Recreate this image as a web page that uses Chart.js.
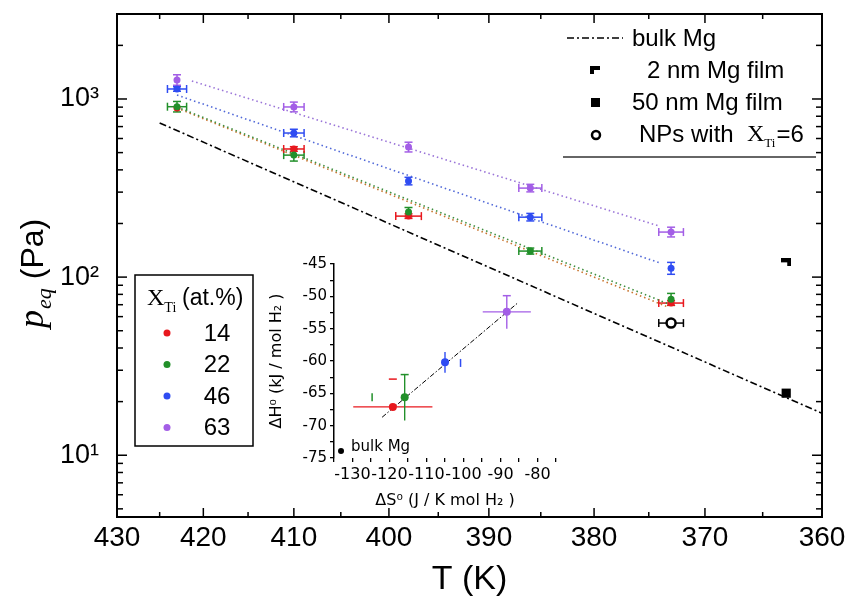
<!DOCTYPE html>
<html>
<head>
<meta charset="utf-8">
<title>Equilibrium pressure of Mg-Ti nanoparticles</title>
<script src="https://cdn.jsdelivr.net/npm/chart.js@4.4.1/dist/chart.umd.min.js"></script>
<style>
  html, body { margin: 0; padding: 0; background: #fff; }
  #wrap { position: relative; width: 849px; height: 603px; }
  #main { position: absolute; left: 0; top: 0; }
  #inset { position: absolute; left: 255px; top: 250px; }
</style>
</head>
<body>
<div id="wrap">
  <canvas id="main" width="849" height="603"></canvas>
  <canvas id="inset" width="310" height="265"></canvas>
</div>
<script>
// equilibrium pressure (Pa) at each temperature (K), one list per Ti content
const temps = [423, 410, 398, 386, 373];
const pTi14 = [890, 524, 220, null, 71.5];
const pTi22 = [905, 484, 232, 140, 75];
const pTi46 = [1138, 644, 346, 217, 112];
const pTi63 = [1278, 902, 537, 316, 179];

// error bars: temperature (K) and relative pressure
const dT14 = [0, 1.1, 1.3, 0, 1.1];
const dP14 = [0, 0.03, 0.03, 0, 0.03];
const dT22 = [1.1, 1.1, 0, 1.1, 0];
const dP22 = [0.07, 0.08, 0.06, 0.04, 0.08];
const dT46 = [1.1, 1.1, 0, 1.1, 0];
const dP46 = [0.03, 0.05, 0.05, 0.05, 0.08];
const dT63 = [0, 1.1, 0, 1.1, 1.1];
const dP63 = [0.07, 0.065, 0.065, 0.05, 0.065];

// van 't Hoff fits (end points)
const fitT14 = [423, 373.3], fitP14 = [890, 68];
const fitT22 = [423, 373.3], fitP22 = [902, 71];
const fitT46 = [423, 374], fitP46 = [1053, 120];
const fitT63 = [421.3, 374], fitP63 = [1262, 193];

// reference samples
const bulkT = [425, 360], bulkP = [733, 17.2];
const filmT = [363], film2nm = [121], film50nm = [22.3];
const npT = [373], npP = [55.2], npErrT = [1.1];

const tiLabels = ['14', '22', '46', '63'];
const tiColors = ['#e8181e', '#22902a', '#2f4cf2', '#a35ee6'];
const fitColors = ['#c8742e', '#3f8f3f', '#5068d8', '#9a74d8'];
const tickTemps = [430, 425, 420, 415, 410, 405, 400, 395, 390, 385, 380, 375, 370, 365, 360];
const decadeLabels = { 10: '10\u00b9', 100: '10\u00b2', 1000: '10\u00b3' };

// inset: formation enthalpy vs entropy
const dS = [-119.1, -115.9, -105.0, -88.3];
const dH = [-67.1, -65.6, -60.2, -52.4];
const dSerr = [10.7, 0, 0, 6.5];
const dHerr = [0, 3.6, 1.6, 2.6];
const capS = [-119.1, -124.7, -100.8, -115.9, -88.3];
const capH = [-62.8, -65.6, -60.3, -62.1, -49.9];
const capRot = [0, 90, 90, 0, 0];
const capColors = [tiColors[0], tiColors[1], tiColors[2], tiColors[1], tiColors[3]];
const bulkS = [-133.1], bulkH = [-73.9];
const lineS = [-122, -85.3], lineH = [-68.7, -51.0];

Chart.defaults.font.family = '"Liberation Sans", Arial, sans-serif';
Chart.defaults.color = '#000';

const SANS = '"Liberation Sans", Arial, sans-serif';
const SERIF = '"Liberation Serif", "Times New Roman", serif';

// "2 nm film" marker: half-filled square
function halfSquare(flip) {
  const c = document.createElement('canvas');
  c.width = 10; c.height = 8;
  const g = c.getContext('2d');
  g.fillStyle = '#000';
  g.fillRect(0, 0, 10, 4);
  g.fillRect(flip ? 0 : 6, 4, 4, 4);
  return c;
}
const film2Marker = halfSquare(false);
const film2Legend = halfSquare(true);

const toXY = (ts, ps) => ts.map((T, i) => ({ x: 1000 / T, y: ps[i] }));

function series(ps, dT, dP, i, order) {
  return {
    data: toXY(temps, ps),
    errT: dT, errP: dP, errColor: tiColors[i],
    backgroundColor: tiColors[i], borderColor: tiColors[i],
    pointRadius: 3.5, borderWidth: 0, order: order
  };
}

function fit(ts, ps, i) {
  return {
    data: toXY(ts, ps), showLine: true,
    borderColor: fitColors[i], borderWidth: 1.6, borderDash: [1.5, 3],
    pointRadius: 0, order: 10
  };
}

function strokeLine(ctx, x1, y1, x2, y2) {
  ctx.beginPath();
  ctx.moveTo(x1, y1);
  ctx.lineTo(x2, y2);
  ctx.stroke();
}

// fixed axis boxes so the plot area lands where we want it
function fixBox(size) {
  return s => {
    if (s.isHorizontal()) s.height = size; else s.width = size;
    s.paddingTop = 0; s.paddingBottom = 0;
    s.paddingLeft = 0; s.paddingRight = 0;
  };
}

const mainDecor = {
  id: 'mainDecor',
  beforeDatasetsDraw(chart) {
    // error bars sit under the markers
    const ctx = chart.ctx, xs = chart.scales.x, ys = chart.scales.y;
    chart.data.datasets.forEach(ds => {
      if (!ds.errT) return;
      ctx.save();
      ctx.strokeStyle = ds.errColor;
      ctx.lineWidth = 1.5;
      ds.data.forEach((pt, i) => {
        if (pt.y == null) return;
        const px = xs.getPixelForValue(pt.x), py = ys.getPixelForValue(pt.y);
        const et = ds.errT[i], ep = ds.errP ? ds.errP[i] : 0;
        if (et) {
          const T = 1000 / pt.x;
          const x1 = xs.getPixelForValue(1000 / (T + et));
          const x2 = xs.getPixelForValue(1000 / (T - et));
          strokeLine(ctx, x1, py, x2, py);
          strokeLine(ctx, x1, py - 4, x1, py + 4);
          strokeLine(ctx, x2, py - 4, x2, py + 4);
        }
        if (ep) {
          const y1 = ys.getPixelForValue(pt.y * (1 + ep));
          const y2 = ys.getPixelForValue(pt.y / (1 + ep));
          strokeLine(ctx, px, y1, px, y2);
          strokeLine(ctx, px - 4, y1, px + 4, y1);
          strokeLine(ctx, px - 4, y2, px + 4, y2);
        }
      });
      ctx.restore();
    });
  },
  afterDraw(chart) {
    const ctx = chart.ctx, xs = chart.scales.x, ys = chart.scales.y;
    const { left, right, top, bottom } = chart.chartArea;
    ctx.save();
    ctx.strokeStyle = '#000';
    ctx.fillStyle = '#000';

    // frame with inward ticks
    ctx.lineWidth = 2;
    ctx.strokeRect(left, top, right - left, bottom - top);
    ctx.lineWidth = 1.5;
    tickTemps.forEach(T => {
      const x = xs.getPixelForValue(1000 / T);
      const len = T % 10 === 0 ? 9 : 5;
      strokeLine(ctx, x, bottom, x, bottom - len);
      strokeLine(ctx, x, top, x, top + len);
    });
    for (let e = 0; e <= 3; e++) {
      for (let m = 1; m <= 9; m++) {
        const v = m * Math.pow(10, e);
        if (v < ys.min || v > ys.max) continue;
        const y = ys.getPixelForValue(v);
        const len = m === 1 ? 10 : 6;
        strokeLine(ctx, left, y, left + len, y);
        strokeLine(ctx, right, y, right - len, y);
      }
    }

    // y title: p_eq (Pa)
    ctx.save();
    ctx.translate(43, 328);
    ctx.rotate(-Math.PI / 2);
    ctx.textBaseline = 'alphabetic';
    ctx.textAlign = 'left';
    ctx.font = 'italic 36px ' + SERIF;
    ctx.fillText('p', 0, 0);
    let w = ctx.measureText('p').width + 1;
    ctx.font = 'italic 22px ' + SERIF;
    ctx.fillText('eq', w, 8);
    w += ctx.measureText('eq').width + 9;
    ctx.font = '32px ' + SANS;
    ctx.fillText('(Pa)', w, 0);
    ctx.restore();

    // upper right legend
    ctx.textBaseline = 'middle';
    ctx.textAlign = 'left';
    ctx.lineWidth = 1.5;
    ctx.setLineDash([7, 3, 2, 3]);
    strokeLine(ctx, 567, 38, 623, 38);
    ctx.setLineDash([]);
    ctx.font = '24px ' + SANS;
    ctx.fillText('bulk Mg', 632, 39);
    ctx.drawImage(film2Legend, 590, 66);
    ctx.fillText('2 nm Mg film', 647, 71);
    ctx.fillRect(591, 98, 9, 9);
    ctx.fillText('50 nm Mg film', 632, 103);
    ctx.lineWidth = 2.5;
    ctx.beginPath();
    ctx.arc(596, 135, 4, 0, Math.PI * 2);
    ctx.stroke();
    let tx = 639;
    ctx.fillText('NPs with  ', tx, 135);
    tx += ctx.measureText('NPs with  ').width;
    ctx.font = '24px ' + SERIF;
    ctx.fillText('X', tx, 135);
    tx += ctx.measureText('X').width;
    ctx.font = '13px ' + SERIF;
    ctx.fillText('Ti', tx, 144);
    tx += ctx.measureText('Ti').width + 1;
    ctx.font = '24px ' + SANS;
    ctx.fillText('=6', tx, 135);
    ctx.strokeStyle = '#333';
    ctx.lineWidth = 1.5;
    strokeLine(ctx, 563, 157, 816, 157);

    // Ti content legend box
    ctx.strokeStyle = '#000';
    ctx.lineWidth = 1.5;
    ctx.strokeRect(135, 275, 118, 171);
    ctx.textBaseline = 'alphabetic';
    ctx.font = '24px ' + SERIF;
    ctx.fillText('X', 147, 305);
    const xw = ctx.measureText('X').width;
    ctx.font = '14px ' + SERIF;
    ctx.fillText('Ti', 147 + xw, 312);
    ctx.font = '23px ' + SANS;
    ctx.fillText('(at.%)', 182, 305);
    ctx.textBaseline = 'middle';
    ctx.textAlign = 'center';
    ctx.font = '24px ' + SANS;
    tiLabels.forEach((lab, i) => {
      const y = 333 + i * 31.5;
      ctx.fillStyle = tiColors[i];
      ctx.beginPath();
      ctx.arc(167, y, 3.5, 0, Math.PI * 2);
      ctx.fill();
      ctx.fillStyle = '#000';
      ctx.fillText(lab, 217, y + 1);
    });
    ctx.restore();
  }
};

new Chart(document.getElementById('main'), {
  type: 'scatter',
  data: {
    datasets: [
      {
        data: toXY(filmT, film2nm), pointStyle: film2Marker, pointRadius: 5, order: 0
      },
      {
        data: toXY(filmT, film50nm), pointStyle: 'rect', pointRadius: 6.5,
        backgroundColor: '#000', borderColor: '#000', borderWidth: 0, order: 0
      },
      {
        data: toXY(npT, npP), errT: npErrT, errColor: '#000',
        pointRadius: 4.5, borderWidth: 2.5, borderColor: '#000', backgroundColor: '#fff', order: 0
      },
      series(pTi63, dT63, dP63, 3, 1),
      series(pTi46, dT46, dP46, 2, 2),
      series(pTi22, dT22, dP22, 1, 3),
      series(pTi14, dT14, dP14, 0, 4),
      fit(fitT63, fitP63, 3),
      fit(fitT46, fitP46, 2),
      fit(fitT22, fitP22, 1),
      fit(fitT14, fitP14, 0),
      {
        data: toXY(bulkT, bulkP), showLine: true,
        borderColor: '#000', borderWidth: 1.6, borderDash: [7, 3, 2, 3],
        pointRadius: 0, order: 11
      }
    ]
  },
  options: {
    responsive: false,
    devicePixelRatio: 1,
    animation: false,
    layout: { padding: { left: 0, right: 27, top: 14, bottom: 0 } },
    plugins: { legend: { display: false }, tooltip: { enabled: false } },
    scales: {
      x: {
        type: 'linear',
        min: 1000 / 430,
        max: 1000 / 360,
        afterBuildTicks: s => {
          s.ticks = tickTemps.filter(T => T % 10 === 0).map(T => ({ value: 1000 / T }));
        },
        afterFit: fixBox(86),
        grid: { display: false },
        border: { display: false },
        ticks: {
          autoSkip: false, maxRotation: 0, padding: -4,
          font: { size: 28 },
          callback: v => String(Math.round(1000 / v))
        },
        title: { display: true, text: 'T (K)', font: { size: 34 }, padding: { top: 0, bottom: 3 } }
      },
      y: {
        type: 'logarithmic',
        min: 4.5,
        max: 3000,
        afterBuildTicks: s => {
          s.ticks = [10, 100, 1000].map(v => ({ value: v }));
        },
        afterFit: fixBox(117),
        grid: { display: false },
        border: { display: false },
        ticks: {
          autoSkip: false, padding: 10,
          font: { size: 27 },
          callback: v => decadeLabels[v] || ''
        }
      }
    }
  },
  plugins: [mainDecor]
});

const insetDecor = {
  id: 'insetDecor',
  beforeDatasetsDraw(chart) {
    const ctx = chart.ctx, xs = chart.scales.x, ys = chart.scales.y;
    ctx.save();
    ctx.lineWidth = 1.4;
    dS.forEach((s, i) => {
      ctx.strokeStyle = tiColors[i];
      const px = xs.getPixelForValue(s), py = ys.getPixelForValue(dH[i]);
      if (dSerr[i]) {
        strokeLine(ctx, xs.getPixelForValue(s - dSerr[i]), py, xs.getPixelForValue(s + dSerr[i]), py);
      }
      if (dHerr[i]) {
        strokeLine(ctx, px, ys.getPixelForValue(dH[i] + dHerr[i]), px, ys.getPixelForValue(dH[i] - dHerr[i]));
      }
    });
    ctx.restore();
  },
  afterDraw(chart) {
    const ctx = chart.ctx, xs = chart.scales.x, ys = chart.scales.y;
    ctx.save();
    ctx.fillStyle = '#000';
    ctx.font = '15px "DejaVu Sans", sans-serif';
    ctx.textBaseline = 'middle';
    ctx.fillText('bulk Mg', xs.getPixelForValue(bulkS[0]) + 10, ys.getPixelForValue(bulkH[0]) - 4);
    ctx.restore();
  }
};

const INSET_FONT = '"DejaVu Sans", sans-serif';

new Chart(document.getElementById('inset'), {
  type: 'scatter',
  data: {
    datasets: [
      {
        data: dS.map((s, i) => ({ x: s, y: dH[i] })),
        pointRadius: 4, borderWidth: 0,
        backgroundColor: tiColors, pointBackgroundColor: tiColors, order: 0
      },
      {
        data: capS.map((s, i) => ({ x: s, y: capH[i] })),
        pointStyle: 'line', pointRadius: 4, pointRotation: capRot,
        borderWidth: 1.5, borderColor: capColors, pointBorderColor: capColors, order: 1
      },
      {
        data: bulkS.map((s, i) => ({ x: s, y: bulkH[i] })),
        pointRadius: 3, backgroundColor: '#000', borderWidth: 0, order: 0
      },
      {
        data: lineS.map((s, i) => ({ x: s, y: lineH[i] })), showLine: true,
        borderColor: '#000', borderWidth: 1, borderDash: [5, 2, 1.5, 2],
        pointRadius: 0, order: 5
      }
    ]
  },
  options: {
    responsive: false,
    devicePixelRatio: 1,
    animation: false,
    layout: { padding: { left: 0, right: 9, top: 14, bottom: 0 } },
    plugins: { legend: { display: false }, tooltip: { enabled: false } },
    scales: {
      x: {
        type: 'linear', min: -135, max: -75,
        afterFit: fixBox(57),
        grid: { display: true, drawOnChartArea: false, drawTicks: true, tickLength: 4, color: '#000', lineWidth: 1.3 },
        border: { display: false },
        ticks: {
          stepSize: 5, autoSkip: false, maxRotation: 0, padding: 3,
          font: { family: INSET_FONT, size: 16 },
          callback: v => (v % 10 === 0 && v >= -130 && v <= -80 ? String(v) : '')
        },
        title: {
          display: true, text: '\u0394S\u2070 (J / K mol H\u2082 )',
          font: { family: INSET_FONT, size: 16 }, padding: { top: 0, bottom: 5 }
        }
      },
      y: {
        type: 'linear', min: -75, max: -45,
        afterFit: fixBox(79),
        grid: { display: true, drawOnChartArea: false, drawTicks: true, tickLength: 4, color: '#000', lineWidth: 1.3 },
        border: { display: true, color: '#000', width: 1.5 },
        ticks: {
          stepSize: 2.5, autoSkip: false, padding: 3,
          font: { family: INSET_FONT, size: 15 },
          callback: v => (Math.abs(v % 5) < 1e-6 ? String(v) : '')
        },
        title: {
          display: true, text: '\u0394H\u2070 (kJ / mol H\u2082 )',
          font: { family: INSET_FONT, size: 16 }, padding: { top: 12, bottom: 0 }
        }
      }
    }
  },
  plugins: [insetDecor]
});
</script>
</body>
</html>
